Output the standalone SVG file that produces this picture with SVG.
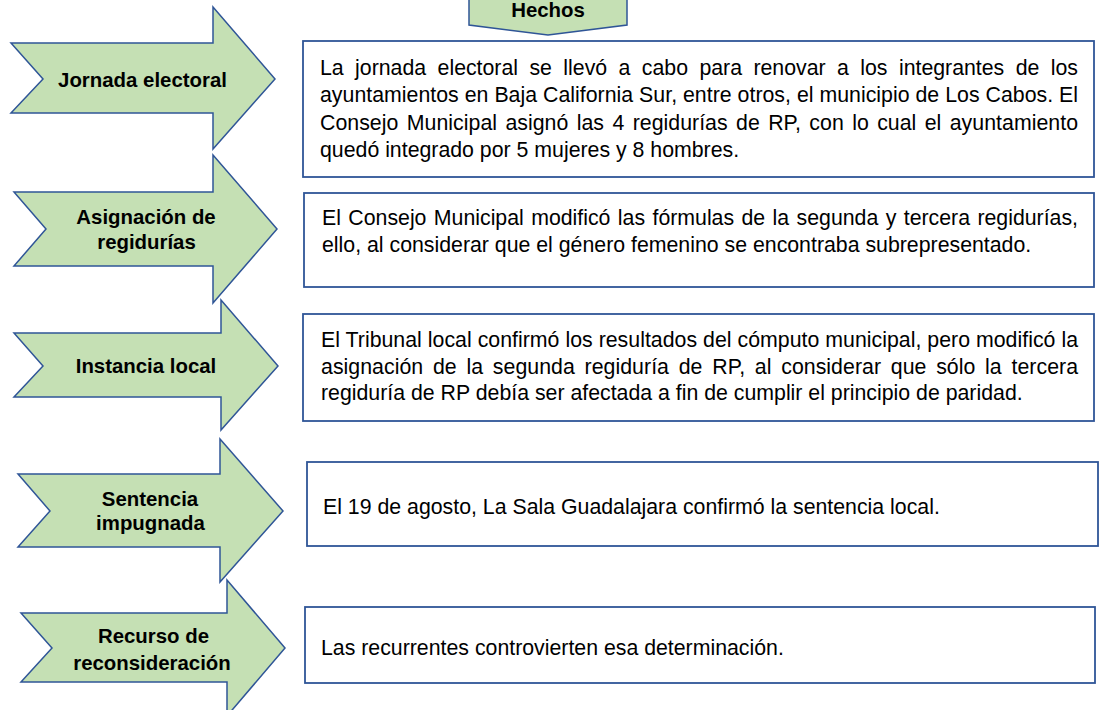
<svg xmlns="http://www.w3.org/2000/svg" width="1099" height="710" viewBox="0 0 1099 710">
<style>
.arrow{fill:#C5E0B4;stroke:#2F5597;stroke-width:1.5;stroke-linejoin:miter}
.box{fill:#ffffff;stroke:#2F5597;stroke-width:1.8}
.lbl{font-family:"Liberation Sans",Arial,sans-serif;font-weight:bold;font-size:20.4px;fill:#000;text-anchor:middle}
.txt{font-family:"Liberation Sans",Arial,sans-serif;font-size:21.3px;fill:#000}
</style>
<rect width="1099" height="710" fill="#ffffff"/>
<g id="hechos">
<polygon class="arrow" points="469,-3 627,-3 627,25 548,35 469,25"/>
<text class="lbl" x="548" y="17" font-size="20">Hechos</text>
</g>
<g id="connectors"></g>
<g id="n1">
<polygon class="arrow" points="11,43 213,43 213,7 275,79 213,149 213,113 11,113 43,79"/>
<text class="lbl" x="142.5" y="87">Jornada electoral</text>
</g>
<g id="n2">
<polygon class="arrow" points="14,192 213,192 213,155 277,229 213,303 213,266 14,266 46,229"/>
<text class="lbl" x="146" y="224">Asignación de</text>
<text class="lbl" x="146.5" y="249">regidurías</text>
</g>
<g id="n3">
<polygon class="arrow" points="14,333 221,333 221,300 278,366 221,430 221,397 14,397 43,366"/>
<text class="lbl" x="146" y="373">Instancia local</text>
</g>
<g id="n4">
<polygon class="arrow" points="18,474 220,474 220,439 283,511 220,582 220,547 18,547 50,511"/>
<text class="lbl" x="150" y="506">Sentencia</text>
<text class="lbl" x="150.5" y="530">impugnada</text>
</g>
<g id="n5">
<polygon class="arrow" points="21,613 227,613 227,580 285,648 227,716 227,682 21,682 52,648"/>
<text class="lbl" x="153.5" y="643">Recurso de</text>
<text class="lbl" x="152" y="670">reconsideración</text>
</g>
<g id="b1">
<rect class="box" x="303" y="41" width="791" height="136"/>
<text class="txt" x="320" y="75" word-spacing="5.5" textLength="758" lengthAdjust="spacing">La jornada electoral se llevó a cabo para renovar a los integrantes de los</text>
<text class="txt" x="320" y="102.3" textLength="758" lengthAdjust="spacing">ayuntamientos en Baja California Sur, entre otros, el municipio de Los Cabos. El</text>
<text class="txt" x="320" y="129.6" word-spacing="2.4" textLength="758" lengthAdjust="spacing">Consejo Municipal asignó las 4 regidurías de RP, con lo cual el ayuntamiento</text>
<text class="txt" x="320" y="157">quedó integrado por 5 mujeres y 8 hombres.</text>
</g>
<g id="b2">
<rect class="box" x="304" y="193" width="790" height="94"/>
<text class="txt" x="322" y="225" word-spacing="1.5" textLength="756" lengthAdjust="spacing">El Consejo Municipal modificó las fórmulas de la segunda y tercera regidurías,</text>
<text class="txt" x="322" y="252">ello, al considerar que el género femenino se encontraba subrepresentado.</text>
</g>
<g id="b3">
<rect class="box" x="303" y="314" width="791" height="107"/>
<text class="txt" x="321" y="347" textLength="757" lengthAdjust="spacing">El Tribunal local confirmó los resultados del cómputo municipal, pero modificó la</text>
<text class="txt" x="321" y="373.5" word-spacing="3.8" textLength="757" lengthAdjust="spacing">asignación de la segunda regiduría de RP, al considerar que sólo la tercera</text>
<text class="txt" x="321" y="400">regiduría de RP debía ser afectada a fin de cumplir el principio de paridad.</text>
</g>
<g id="b4">
<rect class="box" x="307" y="462" width="791" height="84"/>
<text class="txt" x="323" y="514">El 19 de agosto, La Sala Guadalajara confirmó la sentencia local.</text>
</g>
<g id="b5">
<rect class="box" x="305" y="607" width="790" height="76"/>
<text class="txt" x="321" y="655">Las recurrentes controvierten esa determinación.</text>
</g>
</svg>
